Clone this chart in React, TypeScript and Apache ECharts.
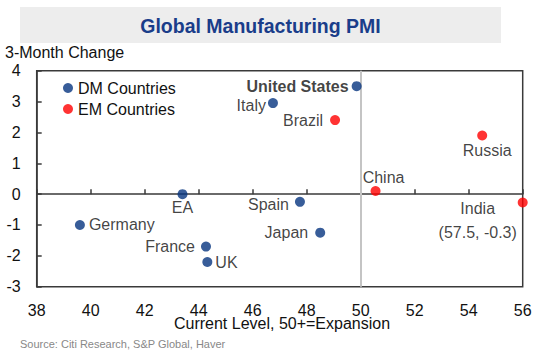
import React, { useEffect, useRef } from "react";
import * as echarts from "echarts";

// DM countries
const dmNames = ["United States", "Italy", "EA", "Spain", "Japan", "Germany", "France", "UK"];
const dmX = [49.85, 46.75, 43.4, 47.75, 48.5, 39.6, 44.27, 44.32];
const dmY = [3.5, 2.95, 0.0, -0.25, -1.25, -1.0, -1.7, -2.2];

// EM countries (India plotted at axis edge; actual 57.5)
const emNames = ["Brazil", "Russia", "China", "India"];
const emX = [49.05, 54.5, 50.55, 56];
const emY = [2.4, 1.9, 0.1, -0.27];
const emLabels = ["Brazil", "Russia", "China", "India\n(57.5, -0.3)"];

const xTicks = { min: 38, max: 56, interval: 2 };
const yTicks = { min: -3, max: 4, interval: 1 };

const FONT = "'Liberation Sans', Arial, sans-serif";
const TXT = "#111";

const labelStyles: Record<string, any> = {
  "United States": { position: "left", distance: 3, fontWeight: "bold" },
  Italy: { position: "left", distance: 2, offset: [0, 2] },
  EA: { position: "bottom", distance: 0 },
  Spain: { position: "left", distance: 6, offset: [0, 3] },
  Japan: { position: "left", distance: 7 },
  Germany: { position: "right", distance: 4 },
  France: { position: "left", distance: 6 },
  UK: { position: "right", distance: 3 },
  Brazil: { position: "left", distance: 7 },
  Russia: { position: "bottom", distance: 2, offset: [5, 0] },
  China: { position: "top", distance: 1, offset: [8, 0] },
  India: { position: "inside", offset: [-45, 18], lineHeight: 24, align: "center" },
};

export default function App() {
  const ref = useRef<HTMLDivElement>(null);
  useEffect(() => {
    if (!ref.current) return;
    const chart = echarts.init(ref.current, null, { renderer: "svg" });
    const mk = (names: string[], xs: number[], ys: number[], texts?: string[]) =>
      names.map((n, i) => ({
        name: n,
        value: [xs[i], ys[i]],
        label: {
          show: true,
          formatter: texts ? texts[i] : n,
          fontSize: 16,
          color: TXT,
          fontFamily: FONT,
          ...labelStyles[n],
        },
      }));
    chart.setOption({
      animation: false,
      backgroundColor: "#fff",
      textStyle: { fontFamily: FONT },
      grid: {
        left: 36.7,
        right: 20.3,
        top: 70.7,
        bottom: 65.3,
        show: true,
        borderColor: "#3a3a3a",
        borderWidth: 1.5,
        backgroundColor: "transparent",
      },
      legend: {
        data: ["DM Countries", "EM Countries"],
        orient: "vertical",
        left: 63,
        top: 80,
        icon: "circle",
        itemWidth: 10,
        itemHeight: 10,
        itemGap: 5,
        padding: 0,
        textStyle: { fontSize: 16, color: TXT, fontFamily: FONT, lineHeight: 16 },
      },
      xAxis: [
        {
          type: "value",
          ...xTicks,
          position: "bottom",
          axisLine: { show: false, onZero: false },
          axisTick: { show: false },
          splitLine: { show: false },
          axisLabel: { fontSize: 16, color: TXT, margin: 16, fontFamily: FONT },
        },
        {
          type: "value",
          ...xTicks,
          position: "top",
          axisLine: { show: true, onZero: true, lineStyle: { color: "#3a3a3a", width: 1.5 } },
          axisTick: { show: true, inside: false, length: 5, lineStyle: { color: "#3a3a3a", width: 1.5 } },
          axisLabel: { show: false },
          splitLine: { show: false },
        },
      ],
      yAxis: {
        type: "value",
        ...yTicks,
        position: "left",
        axisLine: { show: true, onZero: false, lineStyle: { color: "#3a3a3a", width: 1.5 } },
        axisTick: { show: true, inside: true, length: 5, lineStyle: { color: "#3a3a3a", width: 1.5 } },
        splitLine: { show: false },
        axisLabel: { fontSize: 16, color: TXT, margin: 16, fontFamily: FONT },
      },
      series: [
        {
          name: "DM Countries",
          type: "scatter",
          clip: false,
          symbolSize: 10,
          itemStyle: { color: "#06347f" },
          data: mk(dmNames, dmX, dmY),
          z: 3,
          markLine: {
            silent: true,
            symbol: ["none", "none"],
            label: { show: false },
            lineStyle: { color: "#c4c4c4", width: 2, type: "solid" },
            data: [{ xAxis: 50 }],
            z: 1,
          },
        },
        {
          name: "EM Countries",
          type: "scatter",
          clip: false,
          symbolSize: 10,
          itemStyle: { color: "#ff0000" },
          data: mk(emNames, emX, emY, emLabels),
          z: 3,
        },
      ],
      graphic: [
        { type: "rect", shape: { x: 20, y: 7, width: 481, height: 36 }, style: { fill: "#ededed" }, z: 0 },
        {
          type: "text",
          x: 260.5,
          y: 26,
          style: {
            text: "Global Manufacturing PMI",
            font: `bold 19.5px ${FONT}`,
            fill: "#1a3d8a",
            align: "center",
            verticalAlign: "middle",
          },
          z: 1,
        },
        {
          type: "text",
          x: 5,
          y: 52,
          style: { text: "3-Month Change", font: `16px ${FONT}`, fill: TXT, verticalAlign: "middle" },
        },
        {
          type: "text",
          x: 282,
          y: 323,
          style: {
            text: "Current Level, 50+=Expansion",
            font: `16px ${FONT}`,
            fill: TXT,
            align: "center",
            verticalAlign: "middle",
          },
        },
        {
          type: "text",
          x: 20,
          y: 344,
          style: {
            text: "Source: Citi Research, S&P Global, Haver",
            font: `11px ${FONT}`,
            fill: "#888",
            verticalAlign: "middle",
          },
        },
      ],
    });
    return () => chart.dispose();
  }, []);
  return (
    <div
      ref={ref}
      style={{ position: "absolute", left: 0, top: 0, width: 543, height: 352, background: "#fff" }}
    />
  );
}
